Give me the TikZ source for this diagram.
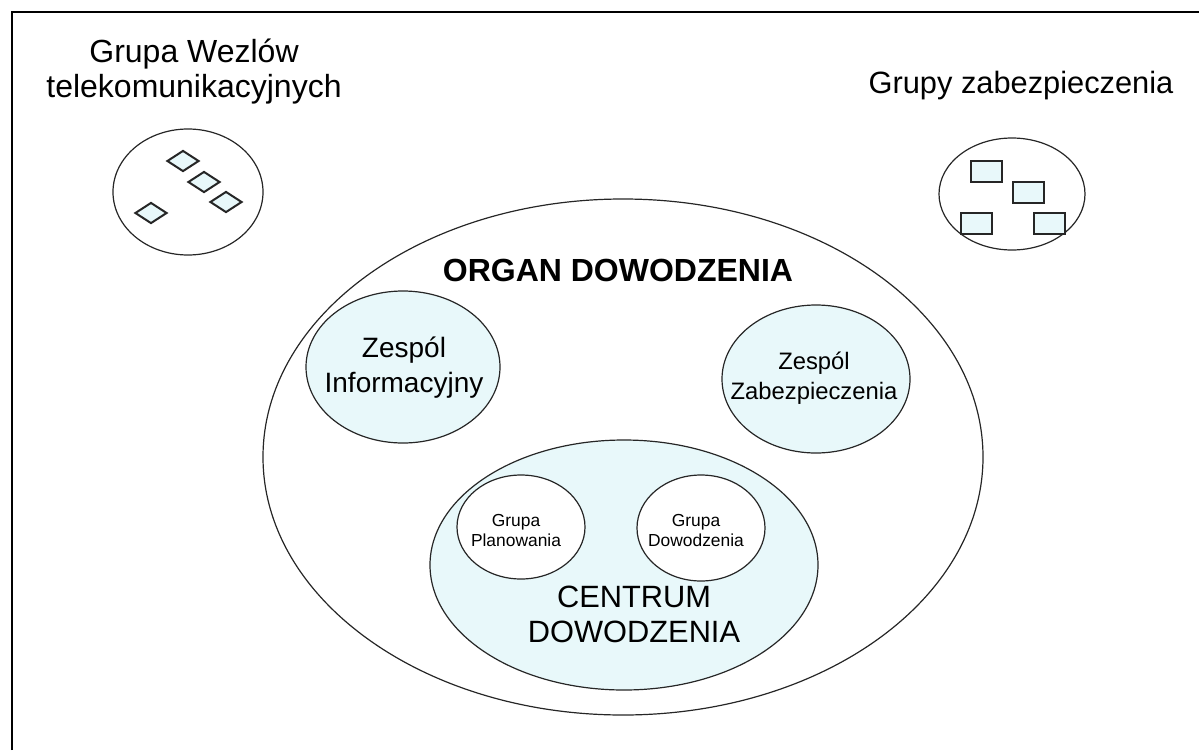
\documentclass[tikz,border=0pt]{standalone}
\usepackage{fontspec}
\setmainfont{Liberation Sans}
\usetikzlibrary{shapes.geometric}
\definecolor{lightfill}{RGB}{232,248,250}
\tikzset{
  oval/.style={ellipse, draw=black!85, line width=0.6pt, inner sep=0pt},
  unit/.style={draw=black!85, line width=1pt, fill=lightfill, inner sep=0pt},
  caption/.style={align=center, inner sep=0pt},
}
\begin{document}
\begin{tikzpicture}[x=0.5pt, y=-0.5pt]
	\useasboundingbox (0,0) rectangle (1199,750);
	% frame (only top and left edges show)
	\draw[line width=1pt] (12,750) -- (12,12) -- (1199,12);

	% outer groups
	\node[oval, minimum width=75pt, minimum height=63pt] (wezly) at (188,192) {};
	\node[oval, minimum width=73pt, minimum height=56pt] (zabgr) at (1012,194) {};
	\foreach \x / \y / \n in {183/161/1, 204/182/2, 226/202/3, 151/213/4} {
		\node[unit, diamond, minimum width=16pt, minimum height=10.5pt] (wezel\n) at (\x,\y) {};
	}
	\foreach \x / \y / \n in {986/171/1, 1028/192/2, 976/223/3, 1049/223/4} {
		\node[unit, rectangle, minimum width=15.5pt, minimum height=10.5pt] (pluton\n) at (\x,\y) {};
	}
	\node[caption, font=\fontsize{16}{17.5}\selectfont] (wezlyt) at (194,72) {Grupa Wezlów\\telekomunikacyjnych};
	\node[anchor=base, font=\fontsize{15.4}{17.5}\selectfont] (zabgrt) at (1021,93) {Grupy zabezpieczenia};

	% command body
	\node[oval, minimum width=360pt, minimum height=258pt] (organ) at (623,457) {};
	\node[anchor=base, font=\fontsize{16}{18}\bfseries] (organt) at (618,281) {ORGAN DOWODZENIA};
	\node[oval, fill=lightfill, minimum width=97pt, minimum height=76pt] (info) at (403,367) {};
	\node[oval, fill=lightfill, minimum width=94pt, minimum height=74pt] (zab) at (816,379) {};
	\node[caption, font=\fontsize{14}{17.5}\selectfont] (infot) at (404,368) {Zespól\\Informacyjny};
	\node[caption, font=\fontsize{11.9}{15}\selectfont] (zabt) at (814,378) {Zespól\\Zabezpieczenia};

	% command centre
	\node[oval, fill=lightfill, minimum width=194pt, minimum height=125pt] (centrum) at (624,565) {};
	\node[oval, fill=white, minimum width=64pt, minimum height=52pt] (plan) at (521,527) {};
	\node[oval, fill=white, minimum width=64pt, minimum height=53pt] (dow) at (701,528) {};
	\node[caption, font=\fontsize{8.7}{10}\selectfont] (plant) at (516,531) {Grupa\\Planowania};
	\node[caption, font=\fontsize{8.7}{10}\selectfont] (dowt) at (696,531) {Grupa\\Dowodzenia};
	\node[caption, font=\fontsize{15.4}{17.5}\selectfont] (centrumt) at (634,614) {CENTRUM\\DOWODZENIA};
\end{tikzpicture}
\end{document}
